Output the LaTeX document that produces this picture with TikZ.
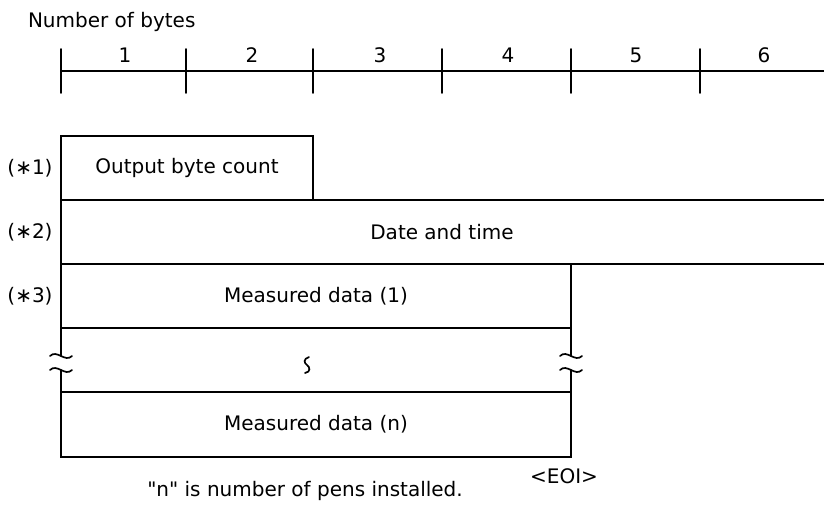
\documentclass[tikz,border=0pt]{standalone}
\usepackage{fontspec}
\setmainfont{DejaVu Sans}[Ligatures=TeXOff]
\usetikzlibrary{calc}
\begin{document}
\begin{tikzpicture}[x=1pt,y=-1pt,
  line width=1.7pt, line cap=round, line join=miter,
  txt/.style={inner sep=0pt, outer sep=0pt, font=\fontsize{20}{24}\selectfont},
  cell/.style={txt, draw, rectangle, anchor=north west},
  tick/.style={line width=1.7pt},
  squig/.style={line width=1.7pt}]
\useasboundingbox (0,0) rectangle (824,504);

% ---------- ruler ----------
\node[txt, anchor=west] (title) at (28,22) {Number of bytes};
\foreach \i/\x in {0/61,1/186,2/313,3/442,4/571,5/700}{
  \coordinate (t\i) at (\x,71);
  \draw[tick] (\x,49) -- (\x,93);
}
\coordinate (rend) at (824,71);
\draw (t0) -- (rend);
\foreach \i/\x in {1/125,2/252,3/380,4/508,5/636,6/764}{
  \node[txt] (n\i) at (\x,55) {\i};
}

% ---------- record layout ----------
\node[cell, minimum width=252pt, minimum height=64pt] (r1) at (61,136) {};
\node[txt] (r1t) at (r1.center) {Output byte count};

% date and time row runs off to the right edge
\coordinate (r2nw) at (61,200);
\coordinate (r2ne) at (824,200);
\coordinate (r2sw) at (61,264);
\coordinate (r2se) at (824,264);
\draw (r2ne) -- (r2nw) -- (r2sw) -- (r2se);
\node[txt] (r2t) at (442,232) {Date and time};

\node[cell, minimum width=510pt, minimum height=64pt] (r3) at (61,264) {};
\node[txt] (r3t) at (r3.center) {Measured data (1)};

\node[cell, minimum width=510pt, minimum height=65pt] (rn) at (61,392) {};
\node[txt] (rnt) at (rn.center) {Measured data (n)};

% row notes on the left
\node[txt] (k1) at (30,168) {(∗1)};
\node[txt] (k2) at (30,232) {(∗2)};
\node[txt] (k3) at (30,296) {(∗3)};

% breaks in the side lines between the rows
\foreach \s/\x in {l/61,r/571}{
  \coordinate (\s a) at (\x,356);
  \coordinate (\s b) at (\x,370);
}
\draw (r3.south west) -- (la);
\draw (lb) -- (rn.north west);
\draw (r3.south east) -- (ra);
\draw (rb) -- (rn.north east);
\foreach \c in {la,lb,ra,rb}{
  \draw[squig] ($(\c)+(-11,0)$) .. controls ($(\c)+(-4,-7)$) and ($(\c)+(4,7)$) .. ($(\c)+(11,0)$);
}

% vertical ellipsis mark
\coordinate (dots) at (307,365);
\draw[squig] ($(dots)+(2,-8)$) .. controls ($(dots)+(-4,-6)$) and ($(dots)+(-3,-2)$) .. (dots)
  .. controls ($(dots)+(3,2)$) and ($(dots)+(4,7)$) .. ($(dots)+(-2,8)$);

\node[txt] (eoi) at (564,476) {<EOI>};
\node[txt] (note) at (305,491) {"n" is number of pens installed.};
\end{tikzpicture}
\end{document}
